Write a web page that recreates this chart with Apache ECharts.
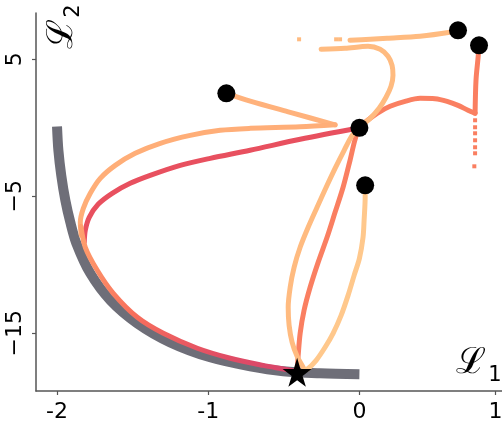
<!DOCTYPE html>
<html>
<head>
<meta charset="utf-8">
<script src="https://cdn.jsdelivr.net/npm/echarts@6/dist/echarts.min.js"></script>
<style>
  html, body { margin: 0; padding: 0; background: #fff; }
  #chart { width: 502px; height: 434px; }
</style>
</head>
<body>
<div id="chart"></div>
<script>
// axis ticks
const xTickValues = [-2, -1, 0, 0.9];
const xTickLabels = ['-2', '-1', '0', '1'];
const yTickValues = [5, -5, -15];
const yTickLabels = ['5', '\u22125', '\u221215'];

// pareto front (gray band)
const paretoFront = [
  [-2.00, 0.1], [-1.991, -1.64], [-1.972, -3.47], [-1.945, -5.29], [-1.912, -6.90],
  [-1.872, -8.43], [-1.780, -10.62], [-1.647, -12.59], [-1.469, -14.27], [-1.251, -15.66],
  [-0.987, -16.75], [-0.722, -17.41], [-0.504, -17.77], [-0.260, -17.92], [0.0, -17.99]
];

// trajectory starting at (-0.88, 2.5): out to the cusp, then back left
const trajAOut = [[-0.880, 2.52], [-0.722, 1.95], [-0.458, 1.13], [-0.161, 0.22]];
const trajABack = [
  [-0.161, 0.22], [-0.392, 0.07], [-0.722, -0.04], [-0.921, -0.18], [-1.119, -0.55],
  [-1.317, -1.13], [-1.483, -1.86], [-1.615, -2.74], [-1.714, -3.69], [-1.780, -4.78],
  [-1.826, -5.88], [-1.846, -6.90], [-1.840, -7.85]
];

// trajectory starting at the origin, going left
const trajB = [
  [0.0, 0.0], [-0.392, -0.84], [-0.723, -1.64], [-0.987, -2.23], [-1.185, -2.74],
  [-1.384, -3.47], [-1.516, -4.05], [-1.635, -4.78], [-1.728, -5.58], [-1.787, -6.53],
  [-1.813, -7.48], [-1.820, -8.36]
];

// shared part running down the front to the end point
const trajFront = [
  [-1.842, -7.2], [-1.813, -8.72], [-1.734, -10.40], [-1.628, -12.08], [-1.469, -13.83],
  [-1.297, -15.0], [-1.072, -16.09], [-0.854, -16.82], [-0.636, -17.34], [-0.458, -17.70],
  [-0.412, -17.85]
];

// trajectory starting at (0.79, 6.0): down, then back over the origin to the end point
const trajCDown = [[0.791, 6.02], [0.785, 5.15], [0.771, 3.47], [0.765, 1.06]];
const trajCBack = [
  [0.765, 1.06], [0.718, 1.28], [0.652, 1.64], [0.580, 1.93], [0.500, 2.12],
  [0.401, 2.15], [0.302, 1.93], [0.203, 1.57], [0.117, 1.06], [0.044, 0.47],
  [0.0, 0.04], [-0.030, -0.90], [-0.062, -2.37], [-0.108, -4.34], [-0.161, -6.17],
  [-0.214, -7.99], [-0.273, -9.82], [-0.326, -11.64], [-0.366, -13.32], [-0.392, -15.0],
  [-0.405, -16.61], [-0.412, -17.70]
];
const trajCSparse = [
  [0.765, 0.55], [0.765, 0.04], [0.765, -0.40], [0.765, -0.91], [0.765, -1.42],
  [0.765, -1.86], [0.760, -2.81]
];

// trajectory starting at (0.65, 7.1)
const trajDTop = [[0.652, 7.12], [0.599, 6.97], [0.401, 6.68], [0.183, 6.53], [0.071, 6.46], [-0.062, 6.39]];
const trajDSparse = [[-0.399, 6.46], [-0.154, 6.46], [-0.128, 6.46]];
const trajD = [
  [-0.253, 5.73], [-0.095, 5.80], [0.057, 5.95], [0.137, 5.73], [0.189, 5.22],
  [0.216, 4.56], [0.222, 3.83], [0.209, 3.03], [0.176, 2.23], [0.130, 1.42],
  [0.071, 0.69], [0.0, 0.04], [-0.048, -0.55], [-0.101, -1.64], [-0.161, -2.96],
  [-0.220, -4.34], [-0.280, -5.80], [-0.339, -7.26], [-0.392, -8.72], [-0.432, -10.18],
  [-0.458, -11.64], [-0.471, -13.10], [-0.465, -14.42], [-0.445, -15.66], [-0.412, -16.68],
  [-0.372, -17.48]
];

// trajectory starting at (0.04, -4.2)
const trajE = [
  [0.038, -4.20], [0.038, -5.07], [0.031, -6.75], [0.024, -7.99], [0.0, -9.53],
  [-0.035, -10.77], [-0.075, -12.23], [-0.121, -13.69], [-0.174, -15.0], [-0.227, -16.02],
  [-0.286, -16.97], [-0.346, -17.63], [-0.392, -17.85]
];

const startPoints = [[-0.880, 2.52], [0.0, 0.0], [0.038, -4.20], [0.652, 7.12], [0.791, 6.02]];
const endPoint = [[-0.412, -17.85]];

const STAR = 'path://M50,0 L61,35 L98,35 L68,57 L79,91 L50,70 L21,91 L32,57 L2,35 L39,35 Z';

function trajLine(data, color, z) {
  return {
    type: 'line', data: data, showSymbol: false, symbol: 'none', smooth: 0.3,
    z: z, silent: true,
    lineStyle: { color: color, width: 5, cap: 'round', join: 'round' }
  };
}

const chart = echarts.init(document.getElementById('chart'));
chart.setOption({
  animation: false,
  backgroundColor: '#fff',
  grid: { left: 36, right: 0, top: 13, bottom: 43, outerBoundsMode: 'none' },
  xAxis: {
    type: 'value', min: -2.139, max: 0.943,
    splitLine: { show: false },
    axisLine: { onZero: false, lineStyle: { color: '#555', width: 1.5 } },
    axisTick: { customValues: xTickValues, length: 4, lineStyle: { color: '#555', width: 1.2 } },
    axisLabel: {
      customValues: xTickValues, margin: 10, color: '#000', fontSize: 22,
      fontFamily: 'DejaVu Sans',
      formatter: v => xTickLabels[xTickValues.indexOf(v)]
    }
  },
  yAxis: {
    type: 'value', min: -19.21, max: 8.38,
    splitLine: { show: false },
    axisLine: { show: true, onZero: false, lineStyle: { color: '#555', width: 1.5 } },
    axisTick: { show: true, customValues: yTickValues, length: 4, lineStyle: { color: '#555', width: 1.2 } },
    axisLabel: {
      customValues: yTickValues, rotate: 90, margin: 10, color: '#000', fontSize: 22,
      fontFamily: 'DejaVu Sans',
      formatter: v => yTickLabels[yTickValues.indexOf(v)]
    }
  },
  series: [
    {
      type: 'line', data: paretoFront, symbol: 'none', smooth: 0.3, z: 1, silent: true,
      lineStyle: { color: '#6e6e78', width: 10 }
    },
    trajLine(trajB, '#e8505f', 2),
    trajLine(trajAOut, '#ffb27c', 3),
    trajLine(trajABack, '#ffae78', 3),
    {
      type: 'line', data: trajFront, symbol: 'none', smooth: 0.3, z: 3, silent: true,
      lineStyle: {
        width: 5, cap: 'round',
        color: new echarts.graphic.LinearGradient(0, 0, 1, 1, [
          { offset: 0, color: '#ffa36e' },
          { offset: 0.35, color: '#f8705c' },
          { offset: 0.7, color: '#e24e64' },
          { offset: 1, color: '#d6436c' }
        ])
      }
    },
    trajLine(trajCDown, '#fa7f61', 4),
    trajLine(trajCBack, '#fa7f61', 4),
    {
      type: 'scatter', data: trajCSparse, symbol: 'rect', symbolSize: [4, 4], z: 4, silent: true,
      itemStyle: { color: '#fa7f61', opacity: 1 }
    },
    trajLine(trajDTop, '#ffbb80', 5),
    trajLine(trajD, '#ffbb80', 5),
    {
      type: 'scatter', data: trajDSparse, symbol: 'rect', symbolSize: [4, 4], z: 5, silent: true,
      itemStyle: { color: '#ffbb80', opacity: 1 }
    },
    trajLine(trajE, '#ffc88c', 5),
    {
      type: 'scatter', data: startPoints, symbol: 'circle', symbolSize: 18, z: 10, silent: true,
      itemStyle: { color: '#000', opacity: 1 }
    },
    {
      type: 'scatter', data: endPoint, symbol: STAR, symbolSize: 29, z: 10, silent: true,
      itemStyle: { color: '#000', opacity: 1 }
    }
  ],
  graphic: [
    { type: 'text', x: 471, y: 364, z: 20, style: { text: '\u2112', fontSize: 36, fontFamily: 'DejaVu Serif', fill: '#000', align: 'center', verticalAlign: 'middle' } },
    { type: 'text', x: 495, y: 376, z: 20, style: { text: '1', fontSize: 21, fontFamily: 'DejaVu Sans', fill: '#000', align: 'center', verticalAlign: 'middle' } },
    { type: 'text', x: 63, y: 34, rotation: Math.PI / 2, z: 20, style: { text: '\u2112', fontSize: 36, fontFamily: 'DejaVu Serif', fill: '#000', align: 'center', verticalAlign: 'middle' } },
    { type: 'text', x: 74, y: 11, rotation: Math.PI / 2, z: 20, style: { text: '2', fontSize: 21, fontFamily: 'DejaVu Sans', fill: '#000', align: 'center', verticalAlign: 'middle' } }
  ]
});
</script>
</body>
</html>
